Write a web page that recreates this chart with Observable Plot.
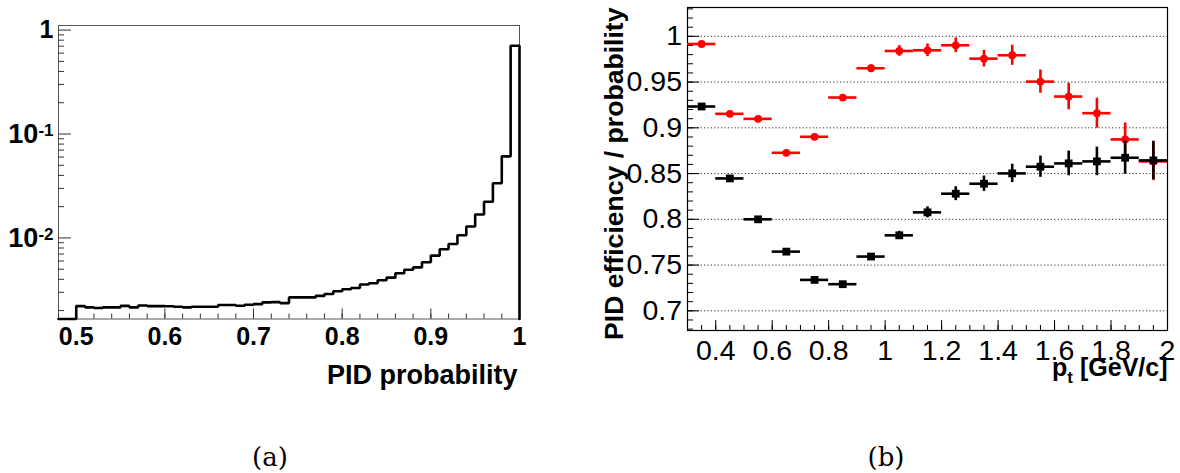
<!DOCTYPE html>
<html><head><meta charset="utf-8">
<script src="https://cdn.jsdelivr.net/npm/d3@7"></script>
<script src="https://cdn.jsdelivr.net/npm/@observablehq/plot@0.6"></script>
<style>
html,body{margin:0;padding:0;background:#fff}
body{width:1180px;height:473px;overflow:hidden;position:relative;font-family:"Liberation Sans",Arial,sans-serif}
#a{position:absolute;left:0;top:0}
#b{position:absolute;left:590px;top:0}
.cap{position:absolute;top:444px;line-height:1;font-family:"DejaVu Serif",serif;font-size:26px;transform:translateX(-50%);color:#000}
</style></head><body>
<div id="a"></div><div id="b"></div>
<div class="cap" style="left:270px">(a)</div>
<div class="cap" style="left:886px">(b)</div>
<script>
// ---------- Panel (a): PID probability histogram ----------
const probEdges = [0.50,0.51,0.52,0.53,0.54,0.55,0.56,0.57,0.58,0.59,
                   0.60,0.61,0.62,0.63,0.64,0.65,0.66,0.67,0.68,0.69,
                   0.70,0.71,0.72,0.73,0.74,0.75,0.76,0.77,0.78,0.79,
                   0.80,0.81,0.82,0.83,0.84,0.85,0.86,0.87,0.88,0.89,
                   0.90,0.91,0.92,0.93,0.94,0.95,0.96,0.97,0.98,0.99];
const probBinWidth = 0.01;
const probCounts = [0.00221,0.00215,0.00212,0.00215,0.00215,0.00222,0.00215,0.00224,0.00221,0.00221,
                    0.00220,0.00218,0.00215,0.00218,0.00218,0.00218,0.00226,0.00226,0.00223,0.00228,
                    0.00231,0.00240,0.00241,0.00236,0.00268,0.00268,0.00268,0.00277,0.00289,0.00307,
                    0.00321,0.00330,0.00356,0.00366,0.00392,0.00415,0.00457,0.00495,0.00521,0.00583,
                    0.00676,0.00778,0.00875,0.0106,0.0129,0.0168,0.0223,0.0336,0.0610,0.706];
const xDomainA = [0.48, 1.0];
const yDomainA = [0.00166, 1.107];
const xTicksA = [0.5,0.6,0.7,0.8,0.9,1.0];
const xMinorA = d3.range(0.48, 1.0001, 0.02);
const yTicksA = [0.01, 0.1, 1];
const yTickBase = ["10","10","1"];
const yTickExp = ["-2","-1",""];
const yMinorA = [2,3,4,5,6,7,8,9].flatMap(k => [k*0.001, k*0.01, k*0.1]).filter(v => v > yDomainA[0] && v < yDomainA[1]);

// ---------- Panel (b): PID efficiency vs pt ----------
const ptCenters = [0.35,0.45,0.55,0.65,0.75,0.85,0.95,1.05,1.15,1.25,1.35,1.45,1.55,1.65,1.75,1.85,1.95];
const ptHalfWidth = 0.05;
const effRed = [0.9916,0.9153,0.9098,0.8727,0.8902,0.9331,0.9651,0.9840,0.9847,0.9902,0.9756,0.9793,0.9505,0.9342,0.9160,0.8873,0.8633];
const errRed = [0.0015,0.0015,0.0015,0.0015,0.0017,0.0020,0.0036,0.0058,0.0069,0.0080,0.0091,0.0110,0.0127,0.0145,0.0164,0.0180,0.0210];
const effBlack = [0.9233,0.8447,0.8000,0.7647,0.7338,0.7291,0.7593,0.7825,0.8076,0.8280,0.8389,0.8502,0.8575,0.8611,0.8633,0.8673,0.8644];
const errBlack = [0.0015,0.0015,0.0015,0.0015,0.0015,0.0015,0.0025,0.0044,0.0060,0.0076,0.0084,0.0100,0.0116,0.0135,0.0156,0.0180,0.0210];
const xDomainB = [0.3, 2.0];
const yDomainB = [0.6785, 1.0315];
const xTicksB = [0.4,0.6,0.8,1.0,1.2,1.4,1.6,1.8,2.0];
const xMinorB = d3.range(0.3, 2.0001, 0.05);
const yTicksB = [0.70,0.75,0.80,0.85,0.90,0.95,1.00];
const yMinorB = d3.range(0.68, 1.0301, 0.01);

// ---------- build panel (a) ----------
{
  const W = 560, H = 400;
  const m = {top: 25, right: 41, bottom: 81.5, left: 58};
  const pw = W - m.left - m.right, ph = H - m.top - m.bottom;
  const path = [{x: xDomainA[0], y: yDomainA[0]}, {x: probEdges[0], y: yDomainA[0]}];
  probEdges.forEach((e, i) => {
    path.push({x: e, y: probCounts[i]}, {x: e + probBinWidth, y: probCounts[i]});
  });
  path.push({x: probEdges[probEdges.length-1] + probBinWidth, y: yDomainA[0]});
  const fmt = d => { const i = yTicksA.indexOf(d); return i < 0 ? "" : yTickBase[i] + (yTickExp[i] ? "^" + yTickExp[i] : ""); };
  const chart = Plot.plot({
    width: W, height: H,
    marginTop: m.top, marginRight: m.right, marginBottom: m.bottom, marginLeft: m.left,
    style: {fontFamily: "Liberation Sans", fontSize: "25px", fontWeight: "bold", color: "#000", background: "#fff", overflow: "visible"},
    x: {domain: xDomainA, ticks: xTicksA, tickSize: 0, tickPadding: 8, tickFormat: d => d === 1 ? "1" : d.toFixed(1), label: null},
    y: {type: "log", domain: yDomainA, ticks: yTicksA, tickSize: 0, tickPadding: 5, tickFormat: fmt, label: null},
    marks: [
      Plot.frame({stroke: "#555", strokeWidth: 1}),
      Plot.tickX(xTicksA, {x: d => d, stroke: "#333", strokeWidth: 1, insetTop: ph - 10}),
      Plot.tickX(xMinorA, {x: d => d, stroke: "#333", strokeWidth: 1, insetTop: ph - 5}),
      Plot.tickY(yTicksA, {y: d => d, stroke: "#333", strokeWidth: 1, insetRight: pw - 13}),
      Plot.tickY(yMinorA, {y: d => d, stroke: "#333", strokeWidth: 1, insetRight: pw - 6}),
      Plot.line(path, {x: "x", y: "y", stroke: "#000", strokeWidth: 2.6, strokeLinejoin: "miter"}),
      Plot.text(["PID probability"], {frameAnchor: "bottom-right", lineAnchor: "middle", dy: 56, dx: -2, textAnchor: "end", fontSize: 27, fontWeight: "bold"})
    ]
  });
  document.getElementById("a").append(chart);
  // superscript exponents on the log axis labels
  d3.select(chart).selectAll("text").filter(function() { return this.textContent.includes("^"); })
    .each(function() {
      const [base, ex] = this.textContent.split("^");
      const t = d3.select(this);
      t.text(null).attr("font-size", "27px");
      t.append("tspan").text(base);
      t.append("tspan").attr("font-size", "17px").attr("dy", "-7px").text(ex);
    });
  d3.select(chart).selectAll("text").filter(function() { return this.textContent === "1" && this.getAttribute("text-anchor") === "end"; })
    .attr("font-size", "27px");
}

// ---------- build panel (b) ----------
{
  const W = 590, H = 400;
  const m = {top: 7, right: 13, bottom: 70, left: 97};
  const pw = W - m.left - m.right, ph = H - m.top - m.bottom;
  const idx = d3.range(ptCenters.length);
  const chart = Plot.plot({
    width: W, height: H,
    marginTop: m.top, marginRight: m.right, marginBottom: m.bottom, marginLeft: m.left,
    style: {fontFamily: "Liberation Sans", fontSize: "28.5px", color: "#000", background: "#fff", overflow: "visible"},
    x: {domain: xDomainB, ticks: xTicksB, tickSize: 0, tickPadding: 9, tickFormat: d3.format("~g"), label: null},
    y: {domain: yDomainB, ticks: yTicksB, tickSize: 0, tickPadding: 5.5, tickFormat: d3.format("~g"), label: null},
    marks: [
      Plot.ruleY(yTicksB, {y: d => d, stroke: "#333", strokeWidth: 1, strokeDasharray: "1.2,2.2"}),
      Plot.frame({stroke: "#000", strokeWidth: 1.2}),
      Plot.tickX(xTicksB, {x: d => d, stroke: "#000", strokeWidth: 1, insetTop: ph - 10}),
      Plot.tickX(xMinorB, {x: d => d, stroke: "#000", strokeWidth: 1, insetTop: ph - 5}),
      Plot.tickY(yTicksB, {y: d => d, stroke: "#000", strokeWidth: 1, insetRight: pw - 12}),
      Plot.tickY(yMinorB, {y: d => d, stroke: "#000", strokeWidth: 1, insetRight: pw - 6}),
      // red series
      Plot.ruleY(idx, {y: i => effRed[i], x1: i => ptCenters[i] - ptHalfWidth, x2: i => ptCenters[i] + ptHalfWidth, stroke: "#ff0000", strokeWidth: 2.6}),
      Plot.ruleX(idx, {x: i => ptCenters[i], y1: i => effRed[i] - errRed[i], y2: i => effRed[i] + errRed[i], stroke: "#ff0000", strokeWidth: 2.6}),
      Plot.dot(idx, {x: i => ptCenters[i], y: i => effRed[i], r: 3.9, fill: "#ff0000", stroke: "none"}),
      // black series
      Plot.ruleY(idx, {y: i => effBlack[i], x1: i => ptCenters[i] - ptHalfWidth, x2: i => ptCenters[i] + ptHalfWidth, stroke: "#000", strokeWidth: 2.6}),
      Plot.ruleX(idx, {x: i => ptCenters[i], y1: i => effBlack[i] - errBlack[i], y2: i => effBlack[i] + errBlack[i], stroke: "#000", strokeWidth: 2.6}),
      Plot.dot(idx, {x: i => ptCenters[i], y: i => effBlack[i], r: 4.4, symbol: "square", fill: "#000", stroke: "none"}),
      Plot.text(["PID efficiency / probability"], {frameAnchor: "top-left", lineAnchor: "middle", rotate: -90, textAnchor: "end", dx: -73, fontSize: 26.6, fontWeight: "bold"}),
      Plot.text(["pt [GeV/c]"], {frameAnchor: "bottom-right", lineAnchor: "middle", textAnchor: "end", dy: 37, dx: 0, fontSize: 25, fontWeight: "bold"})
    ]
  });
  document.getElementById("b").append(chart);
  // subscript t in the x title
  d3.select(chart).selectAll("text").filter(function() { return this.textContent === "pt [GeV/c]"; })
    .each(function() {
      const t = d3.select(this);
      t.text(null);
      t.append("tspan").text("p");
      t.append("tspan").attr("font-size", "17px").attr("dy", "7px").text("t");
      t.append("tspan").attr("dy", "-7px").text(" [GeV/c]");
    });
}
</script>
</body></html>
